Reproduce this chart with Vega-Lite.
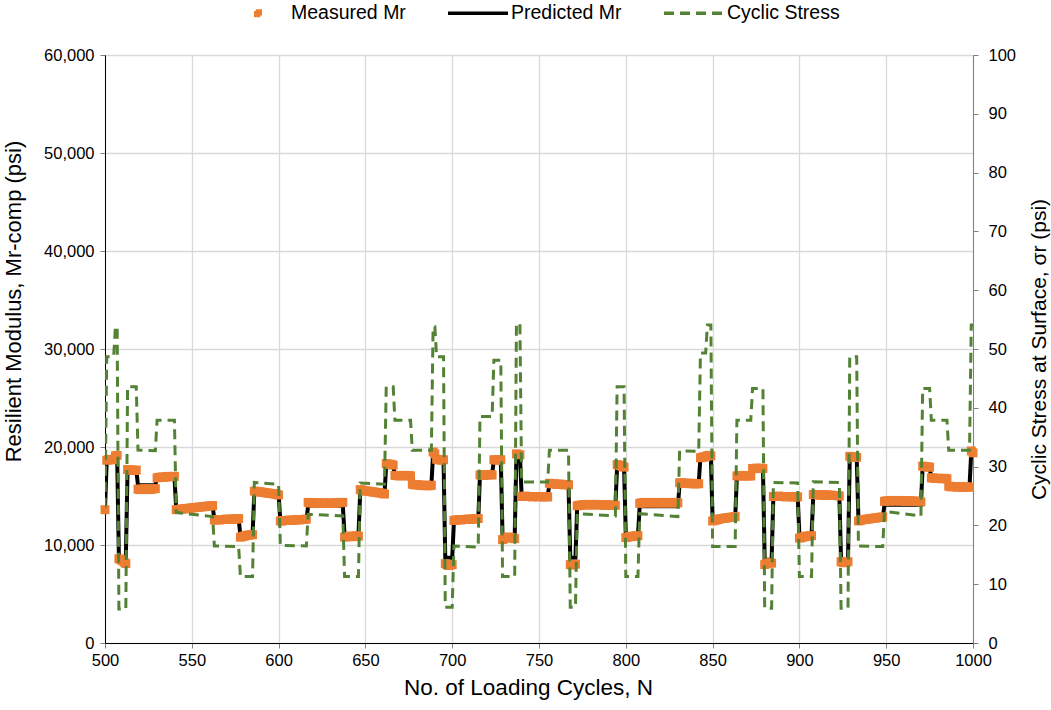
{
"$schema": "https://vega.github.io/schema/vega-lite/v6.json",
"width": 868, "height": 588,
"autosize": {"type": "none"},
"padding": {"left": 105, "top": 55, "right": 78, "bottom": 67},
"background": "white",
"config": {
 "font": "Liberation Sans",
 "view": {"stroke": "#000000", "strokeWidth": 1},
 "axis": {"labelFont": "Liberation Sans", "titleFont": "Liberation Sans", "labelFontSize": 16.5, "titleFontSize": 21, "titleFontWeight": "normal", "labelColor": "#000000", "titleColor": "#000000", "gridColor": "#d9d9d9", "gridWidth": 1.3, "tickColor": "#808080", "tickSize": 5, "domainColor": "#000000"},
 "legend": {"symbolSize": 3600, "padding": 0}
},
"datasets": {
"steps": [
{"N":500,"P":13600,"S":23.0},
{"N":501,"P":18700,"S":48.7},{"N":505,"P":18700,"S":48.7},
{"N":506,"P":19000,"S":53.8},{"N":507,"P":19000,"S":53.8},
{"N":508,"P":8700,"S":5.8},{"N":512,"P":8700,"S":5.8},
{"N":513,"P":17700,"S":43.6},{"N":518,"P":17700,"S":43.6},
{"N":519,"P":16100,"S":32.8},{"N":529,"P":16100,"S":32.7},
{"N":530,"P":17000,"S":37.9},{"N":540,"P":17000,"S":37.9},
{"N":541,"P":13750,"S":22.2},{"N":562,"P":13950,"S":21.5},
{"N":563,"P":12600,"S":16.5},{"N":577,"P":12600,"S":16.4},
{"N":578,"P":11000,"S":11.3},{"N":585,"P":11000,"S":11.3},
{"N":586,"P":15350,"S":27.3},{"N":600,"P":15250,"S":27.0},
{"N":601,"P":12400,"S":16.6},{"N":616,"P":12450,"S":16.5},
{"N":617,"P":14000,"S":21.9},{"N":637,"P":14000,"S":21.6},
{"N":638,"P":11000,"S":11.3},{"N":646,"P":11000,"S":11.3},
{"N":647,"P":15350,"S":27.2},{"N":661,"P":15250,"S":27.0},
{"N":662,"P":18200,"S":43.6},{"N":666,"P":18200,"S":43.6},
{"N":667,"P":17000,"S":37.9},{"N":676,"P":17000,"S":37.9},
{"N":677,"P":16100,"S":32.8},{"N":688,"P":16100,"S":32.8},
{"N":689,"P":19300,"S":53.8},{"N":690,"P":19300,"S":53.8},
{"N":691,"P":18700,"S":48.7},{"N":695,"P":18700,"S":48.7},
{"N":696,"P":8700,"S":6.1},{"N":700,"P":8700,"S":6.1},
{"N":701,"P":12400,"S":16.5},{"N":715,"P":12500,"S":16.3},
{"N":716,"P":17200,"S":38.5},{"N":723,"P":17200,"S":38.5},
{"N":724,"P":18700,"S":48.1},{"N":728,"P":18700,"S":48.1},
{"N":729,"P":10800,"S":11.3},{"N":736,"P":10800,"S":11.3},
{"N":737,"P":19300,"S":54.3},{"N":739,"P":19300,"S":54.3},
{"N":740,"P":15000,"S":27.4},{"N":755,"P":15000,"S":27.4},
{"N":756,"P":16200,"S":32.8},{"N":767,"P":16200,"S":32.8},
{"N":768,"P":8700,"S":6.1},{"N":771,"P":8700,"S":6.1},
{"N":772,"P":14000,"S":22.0},{"N":794,"P":14000,"S":21.6},
{"N":795,"P":18000,"S":43.6},{"N":799,"P":18000,"S":43.6},
{"N":800,"P":11000,"S":11.3},{"N":807,"P":11000,"S":11.3},
{"N":808,"P":13950,"S":22.0},{"N":830,"P":13950,"S":21.5},
{"N":831,"P":16300,"S":32.7},{"N":842,"P":16300,"S":32.6},
{"N":843,"P":18900,"S":49.3},{"N":846,"P":18900,"S":49.3},
{"N":847,"P":19000,"S":54.1},{"N":849,"P":19000,"S":54.1},
{"N":850,"P":12600,"S":16.4},{"N":863,"P":12700,"S":16.4},
{"N":864,"P":17000,"S":37.9},{"N":872,"P":17000,"S":37.9},
{"N":873,"P":17800,"S":43.3},{"N":879,"P":17800,"S":43.3},
{"N":880,"P":8500,"S":5.9},{"N":884,"P":8500,"S":5.9},
{"N":885,"P":15000,"S":27.3},{"N":899,"P":15000,"S":27.2},
{"N":900,"P":11000,"S":11.3},{"N":907,"P":11000,"S":11.3},
{"N":908,"P":15100,"S":27.4},{"N":923,"P":15100,"S":27.3},
{"N":924,"P":8500,"S":5.9},{"N":928,"P":8500,"S":5.9},
{"N":929,"P":19000,"S":48.7},{"N":933,"P":19000,"S":48.7},
{"N":934,"P":12600,"S":16.5},{"N":948,"P":12700,"S":16.4},
{"N":949,"P":14100,"S":22.4},{"N":970,"P":14100,"S":21.6},
{"N":971,"P":18000,"S":43.3},{"N":975,"P":18000,"S":43.3},
{"N":976,"P":16800,"S":37.9},{"N":985,"P":16800,"S":37.9},
{"N":986,"P":16000,"S":32.8},{"N":998,"P":16000,"S":32.8},
{"N":999,"P":19500,"S":54.1},{"N":1000,"P":19500,"S":54.1}
],
"meas": [
{"N":500,"M":13600},{"N":501,"M":18650},{"N":502,"M":18700},{"N":503,"M":18700},{"N":504,"M":18750},{"N":505,"M":18700},{"N":506,"M":19100},{"N":507,"M":19150},{"N":508,"M":8600},{"N":509,"M":8500},
{"N":510,"M":8400},{"N":511,"M":8250},{"N":512,"M":8100},{"N":513,"M":17700},{"N":514,"M":17650},{"N":515,"M":17650},{"N":516,"M":17650},{"N":517,"M":17600},{"N":518,"M":17650},{"N":519,"M":15700},
{"N":520,"M":15650},{"N":521,"M":15700},{"N":522,"M":15700},{"N":523,"M":15750},{"N":524,"M":15700},{"N":525,"M":15650},{"N":526,"M":15700},{"N":527,"M":15700},{"N":528,"M":15750},{"N":529,"M":15750},
{"N":530,"M":16850},{"N":531,"M":16900},{"N":532,"M":16900},{"N":533,"M":16950},{"N":534,"M":16900},{"N":535,"M":16950},{"N":536,"M":17000},{"N":537,"M":16950},{"N":538,"M":17000},{"N":539,"M":17000},
{"N":540,"M":17000},{"N":541,"M":13600},{"N":542,"M":13620},{"N":543,"M":13640},{"N":544,"M":13660},{"N":545,"M":13680},{"N":546,"M":13700},{"N":547,"M":13720},{"N":548,"M":13740},{"N":549,"M":13760},
{"N":550,"M":13780},{"N":551,"M":13800},{"N":552,"M":13820},{"N":553,"M":13840},{"N":554,"M":13860},{"N":555,"M":13880},{"N":556,"M":13900},{"N":557,"M":13920},{"N":558,"M":13940},{"N":559,"M":13960},
{"N":560,"M":13980},{"N":561,"M":14000},{"N":562,"M":14020},{"N":563,"M":12550},{"N":564,"M":12550},{"N":565,"M":12600},{"N":566,"M":12550},{"N":567,"M":12600},{"N":568,"M":12600},{"N":569,"M":12600},
{"N":570,"M":12650},{"N":571,"M":12600},{"N":572,"M":12650},{"N":573,"M":12600},{"N":574,"M":12650},{"N":575,"M":12650},{"N":576,"M":12650},{"N":577,"M":12700},{"N":578,"M":10800},{"N":579,"M":10850},
{"N":580,"M":10900},{"N":581,"M":10950},{"N":582,"M":11000},{"N":583,"M":11000},{"N":584,"M":11050},{"N":585,"M":11050},{"N":586,"M":15500},{"N":587,"M":15470},{"N":588,"M":15450},{"N":589,"M":15420},
{"N":590,"M":15400},{"N":591,"M":15380},{"N":592,"M":15350},{"N":593,"M":15320},{"N":594,"M":15300},{"N":595,"M":15270},{"N":596,"M":15250},{"N":597,"M":15220},{"N":598,"M":15200},{"N":599,"M":15150},
{"N":600,"M":15100},{"N":601,"M":12450},{"N":602,"M":12450},{"N":603,"M":12500},{"N":604,"M":12500},{"N":605,"M":12500},{"N":606,"M":12550},{"N":607,"M":12500},{"N":608,"M":12550},{"N":609,"M":12550},
{"N":610,"M":12550},{"N":611,"M":12600},{"N":612,"M":12550},{"N":613,"M":12600},{"N":614,"M":12600},{"N":615,"M":12600},{"N":616,"M":12650},{"N":617,"M":14350},{"N":618,"M":14300},{"N":619,"M":14300},
{"N":620,"M":14300},{"N":621,"M":14250},{"N":622,"M":14300},{"N":623,"M":14300},{"N":624,"M":14250},{"N":625,"M":14250},{"N":626,"M":14300},{"N":627,"M":14250},{"N":628,"M":14250},{"N":629,"M":14300},
{"N":630,"M":14250},{"N":631,"M":14250},{"N":632,"M":14250},{"N":633,"M":14300},{"N":634,"M":14300},{"N":635,"M":14300},{"N":636,"M":14350},{"N":637,"M":14350},{"N":638,"M":10800},{"N":639,"M":10850},
{"N":640,"M":10900},{"N":641,"M":10850},{"N":642,"M":10900},{"N":643,"M":10850},{"N":644,"M":10900},{"N":645,"M":10950},{"N":646,"M":10900},{"N":647,"M":15650},{"N":648,"M":15600},{"N":649,"M":15550},
{"N":650,"M":15520},{"N":651,"M":15500},{"N":652,"M":15480},{"N":653,"M":15450},{"N":654,"M":15420},{"N":655,"M":15400},{"N":656,"M":15370},{"N":657,"M":15350},{"N":658,"M":15320},{"N":659,"M":15300},
{"N":660,"M":15250},{"N":661,"M":15200},{"N":662,"M":18300},{"N":663,"M":18250},{"N":664,"M":18250},{"N":665,"M":18200},{"N":666,"M":18150},{"N":667,"M":17100},{"N":668,"M":17100},{"N":669,"M":17050},
{"N":670,"M":17100},{"N":671,"M":17050},{"N":672,"M":17100},{"N":673,"M":17100},{"N":674,"M":17050},{"N":675,"M":17100},{"N":676,"M":17050},{"N":677,"M":16200},{"N":678,"M":16150},{"N":679,"M":16150},
{"N":680,"M":16150},{"N":681,"M":16100},{"N":682,"M":16100},{"N":683,"M":16100},{"N":684,"M":16050},{"N":685,"M":16100},{"N":686,"M":16050},{"N":687,"M":16050},{"N":688,"M":16100},{"N":689,"M":19500},
{"N":690,"M":19300},{"N":691,"M":18750},{"N":692,"M":18700},{"N":693,"M":18700},{"N":694,"M":18650},{"N":695,"M":18700},{"N":696,"M":8100},{"N":697,"M":8000},{"N":698,"M":7900},{"N":699,"M":7950},
{"N":700,"M":8000},{"N":701,"M":12500},{"N":702,"M":12550},{"N":703,"M":12550},{"N":704,"M":12600},{"N":705,"M":12550},{"N":706,"M":12600},{"N":707,"M":12600},{"N":708,"M":12600},{"N":709,"M":12650},
{"N":710,"M":12600},{"N":711,"M":12650},{"N":712,"M":12650},{"N":713,"M":12650},{"N":714,"M":12700},{"N":715,"M":12700},{"N":716,"M":17150},{"N":717,"M":17150},{"N":718,"M":17100},{"N":719,"M":17150},
{"N":720,"M":17150},{"N":721,"M":17200},{"N":722,"M":17150},{"N":723,"M":17150},{"N":724,"M":18700},{"N":725,"M":18700},{"N":726,"M":18650},{"N":727,"M":18700},{"N":728,"M":18700},{"N":729,"M":10550},
{"N":730,"M":10650},{"N":731,"M":10750},{"N":732,"M":10800},{"N":733,"M":10800},{"N":734,"M":10750},{"N":735,"M":10700},{"N":736,"M":10650},{"N":737,"M":19300},{"N":738,"M":19250},{"N":739,"M":19200},
{"N":740,"M":14950},{"N":741,"M":14950},{"N":742,"M":15000},{"N":743,"M":14950},{"N":744,"M":14950},{"N":745,"M":14950},{"N":746,"M":14900},{"N":747,"M":14950},{"N":748,"M":14950},{"N":749,"M":14950},
{"N":750,"M":14900},{"N":751,"M":14950},{"N":752,"M":14950},{"N":753,"M":14900},{"N":754,"M":14950},{"N":755,"M":14900},{"N":756,"M":16300},{"N":757,"M":16250},{"N":758,"M":16250},{"N":759,"M":16250},
{"N":760,"M":16200},{"N":761,"M":16200},{"N":762,"M":16200},{"N":763,"M":16200},{"N":764,"M":16150},{"N":765,"M":16150},{"N":766,"M":16150},{"N":767,"M":16150},{"N":768,"M":8000},{"N":769,"M":7950},
{"N":770,"M":8000},{"N":771,"M":8050},{"N":772,"M":14000},{"N":773,"M":14050},{"N":774,"M":14050},{"N":775,"M":14100},{"N":776,"M":14100},{"N":777,"M":14100},{"N":778,"M":14100},{"N":779,"M":14150},
{"N":780,"M":14100},{"N":781,"M":14100},{"N":782,"M":14100},{"N":783,"M":14150},{"N":784,"M":14100},{"N":785,"M":14100},{"N":786,"M":14100},{"N":787,"M":14100},{"N":788,"M":14050},{"N":789,"M":14100},
{"N":790,"M":14050},{"N":791,"M":14100},{"N":792,"M":14050},{"N":793,"M":14050},{"N":794,"M":14050},{"N":795,"M":18200},{"N":796,"M":18150},{"N":797,"M":18100},{"N":798,"M":18000},{"N":799,"M":17950},
{"N":800,"M":10750},{"N":801,"M":10800},{"N":802,"M":10850},{"N":803,"M":10850},{"N":804,"M":10900},{"N":805,"M":10900},{"N":806,"M":10950},{"N":807,"M":10950},{"N":808,"M":14250},{"N":809,"M":14300},
{"N":810,"M":14300},{"N":811,"M":14350},{"N":812,"M":14300},{"N":813,"M":14300},{"N":814,"M":14300},{"N":815,"M":14350},{"N":816,"M":14300},{"N":817,"M":14300},{"N":818,"M":14300},{"N":819,"M":14300},
{"N":820,"M":14300},{"N":821,"M":14350},{"N":822,"M":14300},{"N":823,"M":14300},{"N":824,"M":14300},{"N":825,"M":14300},{"N":826,"M":14300},{"N":827,"M":14350},{"N":828,"M":14300},{"N":829,"M":14300},
{"N":830,"M":14300},{"N":831,"M":16350},{"N":832,"M":16350},{"N":833,"M":16300},{"N":834,"M":16300},{"N":835,"M":16300},{"N":836,"M":16300},{"N":837,"M":16250},{"N":838,"M":16300},{"N":839,"M":16250},
{"N":840,"M":16250},{"N":841,"M":16250},{"N":842,"M":16250},{"N":843,"M":18900},{"N":844,"M":18950},{"N":845,"M":19000},{"N":846,"M":19000},{"N":847,"M":19100},{"N":848,"M":19150},{"N":849,"M":19100},
{"N":850,"M":12450},{"N":851,"M":12500},{"N":852,"M":12550},{"N":853,"M":12600},{"N":854,"M":12650},{"N":855,"M":12700},{"N":856,"M":12700},{"N":857,"M":12750},{"N":858,"M":12750},{"N":859,"M":12800},
{"N":860,"M":12800},{"N":861,"M":12850},{"N":862,"M":12850},{"N":863,"M":12900},{"N":864,"M":17050},{"N":865,"M":17050},{"N":866,"M":17100},{"N":867,"M":17050},{"N":868,"M":17050},{"N":869,"M":17100},
{"N":870,"M":17050},{"N":871,"M":17050},{"N":872,"M":17050},{"N":873,"M":17800},{"N":874,"M":17800},{"N":875,"M":17850},{"N":876,"M":17800},{"N":877,"M":17800},{"N":878,"M":17850},{"N":879,"M":17800},
{"N":880,"M":8000},{"N":881,"M":8100},{"N":882,"M":8150},{"N":883,"M":8200},{"N":884,"M":8150},{"N":885,"M":14950},{"N":886,"M":14950},{"N":887,"M":14950},{"N":888,"M":15000},{"N":889,"M":14950},
{"N":890,"M":14950},{"N":891,"M":14950},{"N":892,"M":14900},{"N":893,"M":14950},{"N":894,"M":14950},{"N":895,"M":14950},{"N":896,"M":14900},{"N":897,"M":14900},{"N":898,"M":14950},{"N":899,"M":14900},
{"N":900,"M":10700},{"N":901,"M":10750},{"N":902,"M":10800},{"N":903,"M":10850},{"N":904,"M":10900},{"N":905,"M":10900},{"N":906,"M":10950},{"N":907,"M":10950},{"N":908,"M":15150},{"N":909,"M":15150},
{"N":910,"M":15150},{"N":911,"M":15100},{"N":912,"M":15100},{"N":913,"M":15100},{"N":914,"M":15100},{"N":915,"M":15100},{"N":916,"M":15100},{"N":917,"M":15050},{"N":918,"M":15100},{"N":919,"M":15050},
{"N":920,"M":15050},{"N":921,"M":15050},{"N":922,"M":15050},{"N":923,"M":15000},{"N":924,"M":8300},{"N":925,"M":8200},{"N":926,"M":8200},{"N":927,"M":8250},{"N":928,"M":8300},{"N":929,"M":19050},
{"N":930,"M":19000},{"N":931,"M":19000},{"N":932,"M":18950},{"N":933,"M":18950},{"N":934,"M":12450},{"N":935,"M":12500},{"N":936,"M":12550},{"N":937,"M":12600},{"N":938,"M":12600},{"N":939,"M":12650},
{"N":940,"M":12650},{"N":941,"M":12700},{"N":942,"M":12700},{"N":943,"M":12750},{"N":944,"M":12750},{"N":945,"M":12800},{"N":946,"M":12800},{"N":947,"M":12850},{"N":948,"M":12850},{"N":949,"M":14450},
{"N":950,"M":14500},{"N":951,"M":14500},{"N":952,"M":14500},{"N":953,"M":14550},{"N":954,"M":14500},{"N":955,"M":14500},{"N":956,"M":14500},{"N":957,"M":14550},{"N":958,"M":14500},{"N":959,"M":14500},
{"N":960,"M":14500},{"N":961,"M":14450},{"N":962,"M":14500},{"N":963,"M":14500},{"N":964,"M":14500},{"N":965,"M":14450},{"N":966,"M":14500},{"N":967,"M":14450},{"N":968,"M":14450},{"N":969,"M":14450},
{"N":970,"M":14400},{"N":971,"M":18050},{"N":972,"M":18000},{"N":973,"M":18000},{"N":974,"M":17950},{"N":975,"M":17950},{"N":976,"M":16850},{"N":977,"M":16850},{"N":978,"M":16800},{"N":979,"M":16800},
{"N":980,"M":16800},{"N":981,"M":16800},{"N":982,"M":16750},{"N":983,"M":16800},{"N":984,"M":16800},{"N":985,"M":16750},{"N":986,"M":16000},{"N":987,"M":15950},{"N":988,"M":15950},{"N":989,"M":15950},
{"N":990,"M":15950},{"N":991,"M":15900},{"N":992,"M":15950},{"N":993,"M":15950},{"N":994,"M":15900},{"N":995,"M":15900},{"N":996,"M":15950},{"N":997,"M":15900},{"N":998,"M":15900},{"N":999,"M":19600},
{"N":1000,"M":19400}
]
},
"layer": [
 {"layer": [
  {"data": {"name": "steps"},
   "mark": {"type": "line", "color": "#000000", "strokeWidth": 4, "clip": true},
   "encoding": {
    "x": {"field": "N", "type": "quantitative", "scale": {"domain": [500, 1000], "nice": false, "zero": false},
          "axis": {"values": [500,550,600,650,700,750,800,850,900,950,1000], "format": "d", "title": "No. of Loading Cycles, N", "titleFontSize": 22.5, "titleX": 423, "labelPadding": 4, "titlePadding": 8, "grid": true, "labelFlush": false}},
    "y": {"field": "P", "type": "quantitative", "scale": {"domain": [0, 60000], "nice": false},
          "axis": {"values": [0,10000,20000,30000,40000,50000,60000], "format": ",d", "title": "Resilient Modulus, Mr-comp (psi)", "titleFontSize": 22, "titleY": 246, "labelPadding": 6, "titlePadding": 18, "grid": true}},
    "color": {"datum": "Predicted Mr", "type": "nominal",
      "scale": {"domain": ["Measured Mr", "Predicted Mr", "Cyclic Stress"], "range": ["#ED7D31", "#000000", "#548235"]},
      "legend": {"orient": "none", "legendX": 121, "legendY": -74, "direction": "horizontal", "title": null,
        "labelFontSize": 19.5, "labelFont": "Liberation Sans", "labelColor": "#000000", "symbolType": "stroke", "symbolSize": 3600, "symbolStrokeWidth": 3.5, "columnPadding": 35, "labelOffset": 1, "padding": 0,
        "encode": {"symbols": {"update": {
          "shape": {"signal": "datum.value === 'Measured Mr' ? 'M-0.075,-0.075H0.075V0.075H-0.075Z' : 'stroke'"},
          "fill": {"signal": "datum.value === 'Measured Mr' ? '#ED7D31' : 'transparent'"},
          "stroke": {"signal": "datum.value === 'Measured Mr' ? 'transparent' : (datum.value === 'Predicted Mr' ? '#000000' : '#548235')"},
          "strokeWidth": {"value": 3.5},
          "strokeDash": {"signal": "datum.value === 'Cyclic Stress' ? [10, 6] : [1, 0]"},
          "opacity": {"value": 1}
        }}}}}
   }},
  {"data": {"name": "meas"},
   "mark": {"type": "point", "shape": "square", "filled": true, "size": 80, "opacity": 1, "clip": false},
   "encoding": {
    "x": {"field": "N", "type": "quantitative"},
    "y": {"field": "M", "type": "quantitative"},
    "color": {"datum": "Measured Mr", "type": "nominal"}
   }}
 ]},
 {"data": {"name": "steps"},
  "mark": {"type": "line", "strokeWidth": 3, "strokeDash": [10, 6], "clip": true},
  "encoding": {
   "x": {"field": "N", "type": "quantitative"},
   "y": {"field": "S", "type": "quantitative", "scale": {"domain": [0, 100], "nice": false},
         "axis": {"orient": "right", "values": [0,10,20,30,40,50,60,70,80,90,100], "title": "Cyclic Stress at Surface, σr (psi)", "titleAngle": 270, "labelPadding": 10, "titlePadding": 34, "grid": false, "domainColor": "#808080"}},
   "color": {"datum": "Cyclic Stress", "type": "nominal"}
  }}
],
"resolve": {"scale": {"y": "independent"}}
}
